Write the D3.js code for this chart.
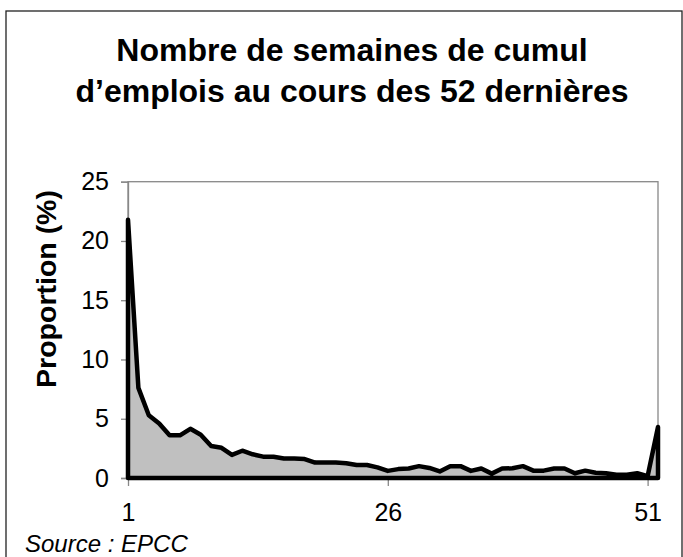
<!DOCTYPE html>
<html>
<head>
<meta charset="utf-8">
<script src="https://cdn.jsdelivr.net/npm/d3@7"></script>
<style>
  body { margin: 0; background: #fff; }
  text { font-family: Arial, "Liberation Sans", sans-serif; }
</style>
</head>
<body>
<svg id="chart"></svg>
<script>
// Data
const weeks = d3.range(1, 53);
const proportion = [21.8, 7.6, 5.3, 4.6, 3.6, 3.6, 4.15, 3.65, 2.7, 2.55,
  1.95, 2.3, 2.0, 1.8, 1.8, 1.65, 1.65, 1.6, 1.3, 1.3,
  1.3, 1.25, 1.1, 1.1, 0.9, 0.6, 0.75, 0.8, 1.0, 0.85,
  0.55, 1.0, 1.0, 0.6, 0.8, 0.37, 0.8, 0.82, 1.0, 0.62,
  0.62, 0.8, 0.8, 0.4, 0.62, 0.45, 0.4, 0.28, 0.28, 0.4,
  0.15, 4.3];
const yTicks = [0, 5, 10, 15, 20, 25];
const xTicks = [1, 26, 51];
const titleLines = ["Nombre de semaines de cumul", "d\u2019emplois au cours des 52 dernières"];

const W = 683, H = 557;
const plot = {left: 128, right: 658, top: 181.7, bottom: 478};

const svg = d3.select("#chart")
    .attr("width", W)
    .attr("height", H);

// outer frame
svg.append("rect")
    .attr("x", 6).attr("y", 11)
    .attr("width", 676).attr("height", 560)
    .attr("fill", "none")
    .attr("stroke", "#222")
    .attr("stroke-width", 1.3);

// title
svg.append("text")
    .attr("x", 352).attr("y", 61)
    .attr("text-anchor", "middle")
    .attr("font-size", 32).attr("font-weight", "bold")
    .selectAll("tspan")
    .data(titleLines)
    .join("tspan")
    .attr("x", 352)
    .attr("dy", (d, i) => i ? 41 : 0)
    .text(d => d);

const x = d3.scaleLinear().domain([1, 52]).range([plot.left, plot.right]);
const y = d3.scaleLinear().domain([0, 25]).range([plot.bottom, plot.top]);

// plot frame
svg.append("rect")
    .attr("x", plot.left).attr("y", plot.top)
    .attr("width", plot.right - plot.left)
    .attr("height", plot.bottom - plot.top)
    .attr("fill", "none")
    .attr("stroke", "#888")
    .attr("stroke-width", 1.3);

// y axis
const yAxis = svg.append("g")
    .attr("transform", `translate(${plot.left},0)`)
    .call(d3.axisLeft(y).tickValues(yTicks).tickSize(7).tickPadding(12));
yAxis.select(".domain").attr("stroke", "#888").attr("stroke-width", 1.3);
yAxis.selectAll(".tick line").attr("stroke", "#888").attr("stroke-width", 1.3);
yAxis.selectAll(".tick text")
    .attr("font-size", 25).attr("font-family", "Arial, 'Liberation Sans', sans-serif")
    .attr("fill", "#000");

// x axis
const xAxis = svg.append("g")
    .attr("transform", `translate(0,${plot.bottom})`)
    .call(d3.axisBottom(x).tickValues(xTicks).tickSize(8).tickPadding(17));
xAxis.select(".domain").remove();
xAxis.selectAll(".tick line").attr("stroke", "#888").attr("stroke-width", 1.3);
xAxis.selectAll(".tick text")
    .attr("font-size", 25).attr("font-family", "Arial, 'Liberation Sans', sans-serif")
    .attr("fill", "#000");

// area
const data = weeks.map((w, i) => ({w, v: proportion[i]}));
const area = d3.area()
    .x(d => x(d.w))
    .y0(y(0))
    .y1(d => y(d.v));

svg.append("path")
    .datum(data)
    .attr("d", d => area(d) )
    .attr("fill", "#c0c0c0")
    .attr("stroke", "#000")
    .attr("stroke-width", 4.5)
    .attr("stroke-linejoin", "round");

// y label
svg.append("text")
    .attr("transform", "translate(56,289) rotate(-90)")
    .attr("text-anchor", "middle")
    .attr("font-size", 28.5).attr("font-weight", "bold")
    .text("Proportion (%)");

// source
svg.append("text")
    .attr("x", 25).attr("y", 552)
    .attr("font-size", 24).attr("font-style", "italic")
    .text("Source : EPCC");
</script>
</body>
</html>
